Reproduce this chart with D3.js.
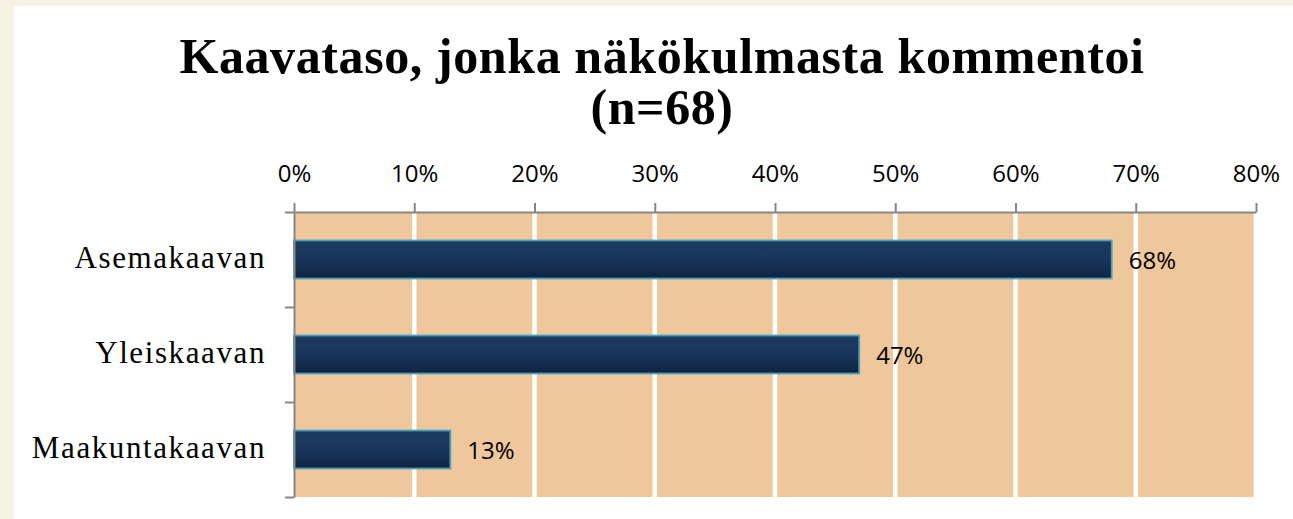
<!DOCTYPE html>
<html>
<head>
<meta charset="utf-8">
<script src="https://cdn.jsdelivr.net/npm/d3@7/dist/d3.min.js"></script>
<style>
  html, body { margin: 0; padding: 0; background: #f5f1e3; }
  svg { display: block; }
</style>
</head>
<body>
<div id="chart"></div>
<script>
// chart data
const titleLines = ["Kaavataso, jonka näkökulmasta kommentoi", "(n=68)"];
const categories = ["Asemakaavan", "Yleiskaavan", "Maakuntakaavan"];
const shares = [0.68, 0.47, 0.13];
const tickValues = [0, 0.1, 0.2, 0.3, 0.4, 0.5, 0.6, 0.7, 0.8];

const width = 1293, height = 519;
const plot = { left: 294, right: 1256, top: 212, bottom: 497 };

const svg = d3.select("#chart").append("svg")
    .attr("width", width)
    .attr("height", height);

// gradient for the bars
const defs = svg.append("defs");
const grad = defs.append("linearGradient")
    .attr("id", "barFill")
    .attr("x1", 0).attr("y1", 0).attr("x2", 0).attr("y2", 1);
grad.append("stop").attr("offset", "0%").attr("stop-color", "#1d3b62");
grad.append("stop").attr("offset", "55%").attr("stop-color", "#18345a");
grad.append("stop").attr("offset", "100%").attr("stop-color", "#0f233f");

// background panels
svg.append("rect").attr("width", width).attr("height", height).attr("fill", "#f5f1e3");
svg.append("rect").attr("x", 14).attr("y", 6)
    .attr("width", width - 14).attr("height", height - 6)
    .attr("fill", "#ffffff");

// title
svg.append("g").selectAll("text")
    .data(titleLines)
    .join("text")
    .attr("x", 662)
    .attr("y", (d, i) => i === 0 ? 73 : 124)
    .attr("text-anchor", "middle")
    .attr("font-family", "'Liberation Serif', serif")
    .attr("font-weight", "bold")
    .attr("font-size", 50)
    .attr("letter-spacing", 0.6)
    .attr("fill", "#000")
    .text(d => d);

// scales
const x = d3.scaleLinear().domain([0, 0.8]).range([plot.left, plot.right]);
const y = d3.scaleBand().domain(categories)
    .range([plot.top, plot.bottom])
    .paddingInner(0.6)
    .paddingOuter(0.3);
const yEdge = d3.scaleLinear().domain([0, categories.length]).range([plot.top, plot.bottom]);

// plot area fill
svg.append("rect")
    .attr("x", x(0)).attr("y", plot.top)
    .attr("width", x(0.8) - x(0)).attr("height", plot.bottom - plot.top)
    .attr("fill", "#eec79c");

// white vertical gridlines
svg.append("g").selectAll("line")
    .data(tickValues.filter(d => d > 0))
    .join("line")
    .attr("x1", d => x(d)).attr("x2", d => x(d))
    .attr("y1", plot.top).attr("y2", plot.bottom)
    .attr("stroke", "#ffffff")
    .attr("stroke-width", 4.5);

// bars
svg.append("g").selectAll("rect")
    .data(categories)
    .join("rect")
    .attr("x", x(0))
    .attr("y", d => y(d))
    .attr("width", (d, i) => x(shares[i]) - x(0))
    .attr("height", y.bandwidth())
    .attr("fill", "url(#barFill)")
    .attr("stroke", "#4b9fb8")
    .attr("stroke-width", 1.8);

// value labels
svg.append("g").selectAll("text")
    .data(categories)
    .join("text")
    .attr("x", (d, i) => x(shares[i]) + 17)
    .attr("y", d => y(d) + y.bandwidth() / 2 + 9)
    .attr("font-family", "'Open Sans', sans-serif")
    .attr("font-size", 24)
    .attr("fill", "#000")
    .text((d, i) => d3.format(".0%")(shares[i]));

// top axis
const xAxis = svg.append("g")
    .attr("transform", `translate(0,${plot.top})`)
    .call(d3.axisTop(x).tickValues(tickValues).tickFormat(d3.format(".0%"))
        .tickSize(9).tickSizeOuter(0).tickPadding(21));
xAxis.select(".domain").attr("stroke", "#868686").attr("stroke-width", 2);
xAxis.selectAll(".tick line").attr("stroke", "#868686").attr("stroke-width", 2);
xAxis.selectAll(".tick text")
    .attr("font-family", "'Open Sans', sans-serif")
    .attr("font-size", 24)
    .attr("fill", "#000")
    .attr("dy", 0);

// left axis with ticks between categories
const yAxis = svg.append("g")
    .attr("transform", `translate(${plot.left},0)`)
    .call(d3.axisLeft(yEdge).tickValues(d3.range(categories.length + 1))
        .tickFormat("").tickSize(9).tickSizeOuter(0));
yAxis.select(".domain").attr("stroke", "#868686").attr("stroke-width", 2);
yAxis.selectAll(".tick line").attr("stroke", "#868686").attr("stroke-width", 2);

// category labels
svg.append("g").selectAll("text")
    .data(categories)
    .join("text")
    .attr("x", 266)
    .attr("y", d => y(d) + y.bandwidth() / 2 + 8)
    .attr("text-anchor", "end")
    .attr("font-family", "'Liberation Serif', serif")
    .attr("font-size", 31)
    .attr("letter-spacing", 1.6)
    .attr("fill", "#000")
    .text(d => d);
</script>
</body>
</html>
